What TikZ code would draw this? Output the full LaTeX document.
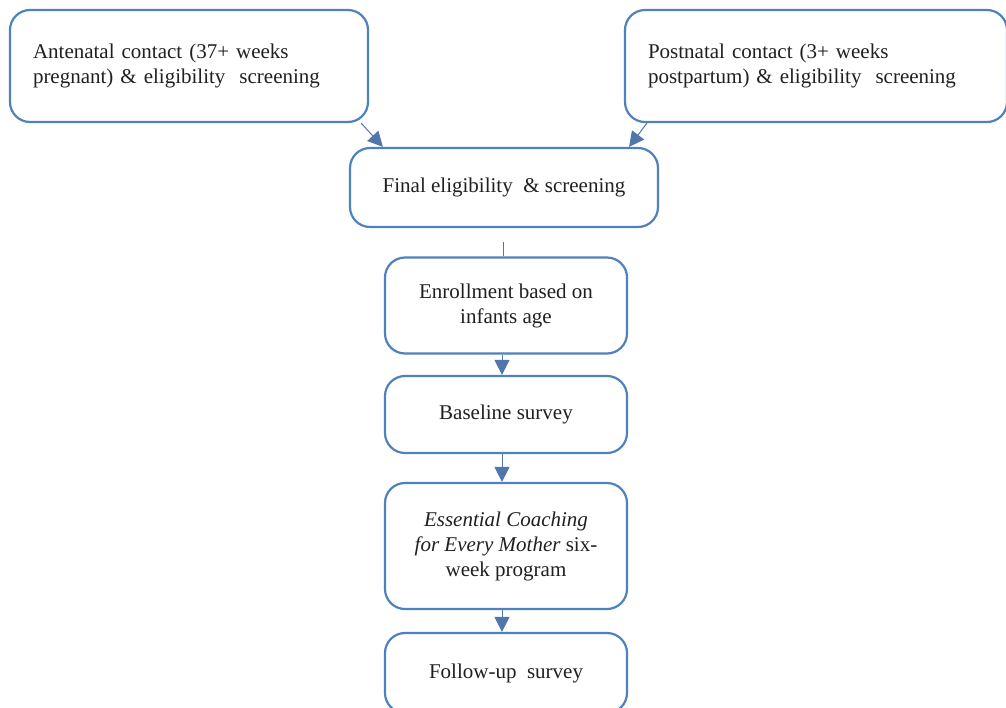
\documentclass[tikz,border=0pt]{standalone}
\usepackage{fontspec}
\setmainfont{Liberation Serif}
\usetikzlibrary{arrows.meta, positioning, calc}
\definecolor{boxblue}{RGB}{79,129,189}
\definecolor{linkblue}{RGB}{80,118,172}
\definecolor{ink}{RGB}{35,31,32}

\begin{document}
\begin{tikzpicture}[x=0.5pt, y=-0.5pt,
  stage/.style={draw=boxblue, line width=1.1pt, rounded corners=10pt, fill=white, align=center, text=ink, inner sep=0pt, font=\fontsize{10.5}{12.5}\selectfont},
  entry/.style={stage, align=left, minimum height=56pt},
  link/.style={draw=linkblue, line width=0.5pt, -{Triangle[length=7.5pt, width=7.5pt]}}]
  \clip (0,0) rectangle (1006,707);
  \node[entry, minimum width=179pt, text width=156pt] (ante) at (189,66) {Antenatal contact (37+ weeks\\pregnant) \& eligibility\ \ screening};
  \node[entry, minimum width=191pt, text width=168pt] (post) at (816,66) {Postnatal contact (3+ weeks\\postpartum) \& eligibility\ \ screening};
  \node[stage, minimum width=154pt, minimum height=39.5pt] (final) at (504,187.5) {Final eligibility\ \ \& screening};
  \node[stage, minimum width=121pt, minimum height=48pt] (enroll) at (506,305.5) {Enrollment based on\\infants age};
  \node[stage, minimum width=121pt, minimum height=38.5pt] (base) at (506,414.5) {Baseline survey};
  \node[stage, minimum width=121pt, minimum height=63pt] (coach) at (506,546) {\textit{Essential Coaching}\\\textit{for Every Mother} six-\\week program};
  \node[stage, minimum width=121pt, minimum height=40pt] (follow) at (506,673) {Follow-up\ \ survey};
  \draw[link] ($(ante.south east)+(-8,0)$) -- ($(final.north west)+(34,0)$);
  \draw[link] ($(post.south west)+(23,0)$) -- ($(final.north east)+(-30,0)$);
  \draw[draw=linkblue, line width=0.5pt] ($(final.south)+(-1,14)$) -- ($(enroll.north)+(-3,0)$);
  \draw[link] ($(enroll.south)+(-4,0)$) -- ($(base.north)+(-4,0)$);
  \draw[link] ($(base.south)+(-4,0)$) -- ($(coach.north)+(-4,0)$);
  \draw[link] ($(coach.south)+(-4,0)$) -- ($(follow.north)+(-4,0)$);
\end{tikzpicture}
\end{document}
